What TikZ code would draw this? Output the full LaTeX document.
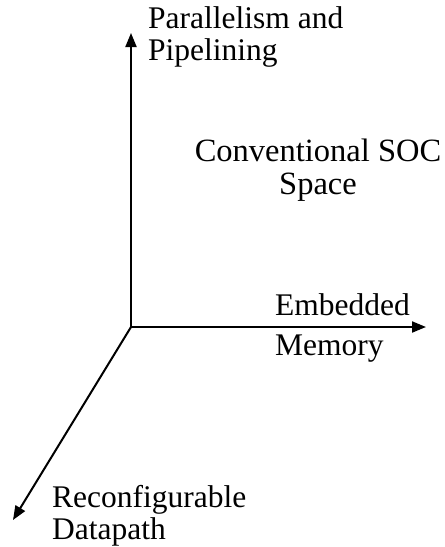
\documentclass[tikz,border=0pt]{standalone}
\usepackage{fontspec}
\setmainfont{Liberation Serif}
\usetikzlibrary{arrows.meta}
\begin{document}
\begin{tikzpicture}[x=1pt,y=-1pt,
    axis/.style={line width=2pt,-{Triangle[length=14pt,width=11pt]}},
    lbl/.style={inner sep=0pt,font=\fontsize{31.5}{31.5}\selectfont}]
  % page frame
  \useasboundingbox (0,0) rectangle (445,547);

  % the three axes
  \coordinate (O) at (131,327);
  \coordinate (ytip) at (131,33);
  \coordinate (xtip) at (426,327);
  \coordinate (ztip) at (13,520);
  \draw[axis] (O) -- (ytip);
  \draw[axis] (O) -- (xtip);
  \draw[axis] (O) -- (ztip);

  % axis labels (base = last line)
  \node[lbl,anchor=base west,align=left] (par) at (148,60) {Parallelism and\\Pipelining};
  \node[lbl,anchor=base west] (emb) at (275,315) {Embedded};
  \node[lbl,anchor=base west] (mem) at (275,355) {Memory};
  \node[lbl,anchor=base west,align=left] (rec) at (52,539) {Reconfigurable\\Datapath};

  % the space in between
  \node[lbl,anchor=base,align=center,font=\fontsize{32.5}{33}\selectfont] (soc) at (318,194) {Conventional SOC\\Space};
\end{tikzpicture}
\end{document}
